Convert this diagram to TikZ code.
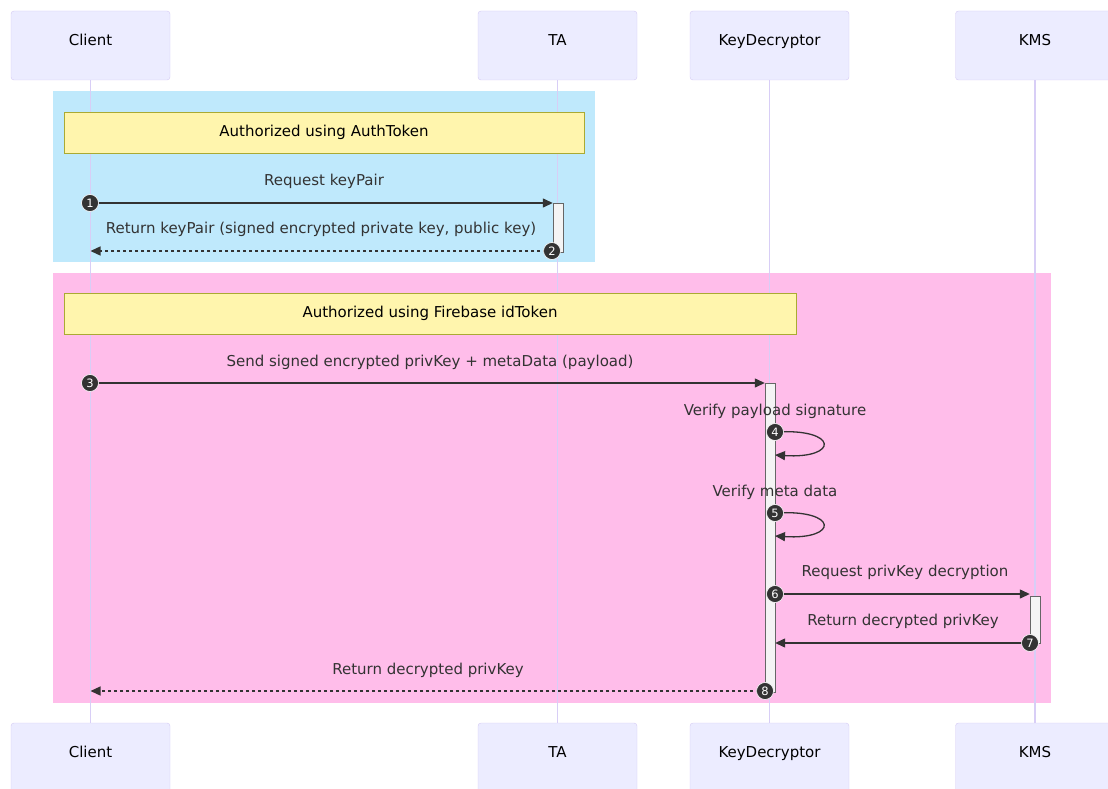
\documentclass[tikz,border=0pt]{standalone}
\usepackage{fontspec}
\setmainfont{DejaVu Sans}
\usetikzlibrary{arrows.meta}
\definecolor{actfill}{HTML}{ECECFF}
\definecolor{actline}{HTML}{D4C8F4}
\definecolor{life}{HTML}{D8CEF6}
\definecolor{bluebg}{HTML}{BFE9FC}
\definecolor{pinkbg}{HTML}{FFBDEA}
\definecolor{notefill}{HTML}{FFF5AD}
\definecolor{noteline}{HTML}{AAAA33}
\definecolor{txt}{HTML}{333333}
\definecolor{actvfill}{HTML}{F4F4F4}
\definecolor{actvline}{HTML}{666666}
\pgfdeclarelayer{fg}
\pgfsetlayers{main,fg}
\begin{document}
\begin{tikzpicture}[x=1pt,y=-1pt,
  actor/.style={draw=actline, fill=actfill, rounded corners=3pt, minimum width=159pt, minimum height=69pt, inner sep=0pt, text height=8pt, text depth=8pt, font=\fontsize{15}{17}\selectfont, text=black},
  lifeline/.style={draw=life, line width=1.6pt},
  notebox/.style={draw=noteline, fill=notefill, inner sep=0pt, minimum height=41pt, font=\fontsize{15}{17}\selectfont, text=black},
  actv/.style={draw=actvline, fill=actvfill, minimum width=10pt, inner sep=0pt},
  lbl/.style={font=\fontsize{15}{17}\selectfont, text=txt, inner sep=0pt},
  msg/.style={draw=txt, line width=1.3pt, -{Triangle[length=10pt,width=9pt]}},
  msgd/.style={msg, dash pattern=on 3pt off 3pt},
  num/.style={circle, fill=txt, draw=white, line width=0.6pt, minimum size=17pt, inner sep=0pt, text=white, font=\fontsize{11.5}{12}\selectfont}
]
\useasboundingbox (0,0) rectangle (1108,789);
% group backgrounds
\fill[bluebg] (53,91) rectangle (595,262);
\fill[pinkbg] (53,273) rectangle (1051,703);
% actors
\node[actor] (cl) at (90.5,45.5) {Client};
\node[actor] (ta) at (557.5,45.5) {TA};
\node[actor] (kd) at (769.5,45.5) {KeyDecryptor};
\node[actor] (km) at (1035,45.5) {KMS};
\node[actor] (clb) at (90.5,757.5) {Client};
\node[actor] (tab) at (557.5,757.5) {TA};
\node[actor] (kdb) at (769.5,757.5) {KeyDecryptor};
\node[actor] (kmb) at (1035,757.5) {KMS};
% lifelines
\draw[lifeline] (cl) -- (clb);
\draw[lifeline] (ta) -- (tab);
\draw[lifeline] (kd) -- (kdb);
\draw[lifeline] (km) -- (kmb);
% notes
\node[notebox, minimum width=520pt] (note1) at (324,132.5) {Authorized using AuthToken};
\node[notebox, minimum width=732pt] (note2) at (430,313.5) {Authorized using Firebase idToken};
% activations
\node[actv, minimum height=49pt] (a1) at (558,227.5) {};
\node[actv, minimum height=309pt] (a2) at (770,537.5) {};
\node[actv, minimum height=47pt] (a3) at (1035,619.5) {};
% numbered markers
\begin{pgfonlayer}{fg}
\node[num] (n1) at (90,203) {1};
\node[num] (n2) at (552,251) {2};
\node[num] (n3) at (90,383) {3};
\node[num] (n4) at (775,432) {4};
\node[num] (n5) at (775,513) {5};
\node[num] (n6) at (775,594) {6};
\node[num] (n7) at (1030,643) {7};
\node[num] (n8) at (765,691) {8};
\end{pgfonlayer}
\coordinate (r4) at (775,455);
\coordinate (r5) at (775,536);
% messages
\draw[msg] (n1.center) -- (n1.center -| a1.west);
\draw[msgd] (n2.center) -- (n2.center -| cl.south);
\draw[msg] (n3.center) -- (n3.center -| a2.west);
\draw[msg] (n4.center) .. controls (839,428) and (839,459) .. (r4);
\draw[msg] (n5.center) .. controls (839,509) and (839,540) .. (r5);
\draw[msg] (n6.center) -- (n6.center -| a3.west);
\draw[msg] (n7.center) -- (n7.center -| a2.east);
\draw[msgd] (n8.center) -- (n8.center -| cl.south);
% labels
\node[lbl] (l1) at (324,181) {Request keyPair};
\node[lbl] (l2) at (321,229) {Return keyPair (signed encrypted private key, public key)};
\node[lbl] (l3) at (430,362) {Send signed encrypted privKey + metaData (payload)};
\node[lbl] (l4) at (775,411) {Verify payload signature};
\node[lbl] (l5) at (775,492) {Verify meta data};
\node[lbl] (l6) at (905,572) {Request privKey decryption};
\node[lbl] (l7) at (903,621) {Return decrypted privKey};
\node[lbl] (l8) at (428,670) {Return decrypted privKey};
\end{tikzpicture}
\end{document}
